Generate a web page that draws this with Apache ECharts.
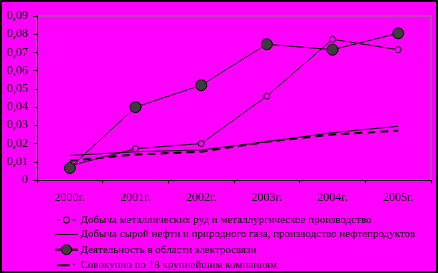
<!DOCTYPE html>
<html>
<head>
<meta charset="utf-8">
<script src="https://cdn.jsdelivr.net/npm/echarts@6/dist/echarts.min.js"></script>
<style>
  html, body { margin: 0; padding: 0; background: #ff00ff; }
  #chart { width: 438px; height: 273px; }
</style>
</head>
<body>
<div id="chart"></div>
<script>
// годы
const years = ['2000г.', '2001г.', '2002г.', '2003г.', '2004г.', '2005г.'];
// значения по отраслям
const metals = [0.0078, 0.0172, 0.0200, 0.0460, 0.0772, 0.0715];
const oilGas = [0.0135, 0.0155, 0.0165, 0.0210, 0.0260, 0.0295];
const telecom = [0.0066, 0.0400, 0.0520, 0.0745, 0.0715, 0.0805];
const total18 = [0.0105, 0.0140, 0.0155, 0.0210, 0.0250, 0.0270];

const names = [
  'Добыча металлических руд и металлургическое производство',
  'Добыча сырой нефти и природного газа, производство нефтепродуктов',
  'Деятельность в области электросвязи',
  'Совокупно по 18 крупнейшим компаниям'
];

const chart = echarts.init(document.getElementById('chart'));

const font = "'Liberation Serif', 'Times New Roman', serif";

// значки легенды (рамка 22x11 задаётся пустыми точками по углам)
const box = 'M0,0 Z M22,11 Z ';
const iconThin = 'path://' + box + 'M0,5 L22,5 L22,6 L0,6 Z';
const iconThick = 'path://' + box + 'M2,5 L14,5 L14,7 L2,7 Z M18,4 L19,4 L19,6 L18,6 Z';
const iconMetal = 'path://' + box +
  'M2,5 L5,5 L5,6 L2,6 Z M17,5 L20,5 L20,6 L17,6 Z ' +
  'M11,2 A3.5,3.5 0 1 1 10.99,2 Z M11,3 A2.5,2.5 0 1 0 11.01,3 Z';
const iconTele = 'path://' + box +
  'M0,5 L6,5 L6,6 L0,6 Z M16,5 L22,5 L22,6 L16,6 Z ' +
  'M11,0.5 A5,5 0 1 1 10.99,0.5 Z';

chart.setOption({
  backgroundColor: '#ff00ff',
  animation: false,
  textStyle: { fontFamily: font, color: '#000' },
  graphic: [{
    type: 'rect',
    shape: { x: 1, y: 1, width: 436, height: 271 },
    style: { fill: 'none', stroke: '#000', lineWidth: 2 },
    silent: true
  }],
  grid: {
    left: 37, top: 16, right: 7, bottom: 93,
    show: true, borderColor: '#808080', borderWidth: 1, backgroundColor: 'transparent'
  },
  legend: {
    orient: 'vertical',
    left: 55, top: 214.5,
    padding: 0,
    height: 58,
    itemGap: 3.6,
    itemWidth: 22, itemHeight: 11,
    textStyle: { fontFamily: font, fontSize: 11, lineHeight: 11, color: '#000', padding: [0, 0, 0, -2] },
    data: [
      { name: names[0], icon: iconMetal, itemStyle: { color: '#000', borderWidth: 0 } },
      { name: names[1], icon: iconThin, itemStyle: { color: '#000', borderWidth: 0 } },
      { name: names[2], icon: iconTele, itemStyle: { color: '#3c3c3c', borderColor: '#000', borderWidth: 1 } },
      { name: names[3], icon: iconThick, itemStyle: { color: '#000', borderWidth: 0 } }
    ]
  },
  xAxis: {
    type: 'category',
    data: years,
    boundaryGap: true,
    axisLine: { lineStyle: { color: '#000', width: 1 } },
    axisTick: { show: true, length: 4, lineStyle: { color: '#000' } },
    axisLabel: { fontSize: 12, color: '#000', margin: 12 },
    splitLine: { show: false }
  },
  yAxis: {
    type: 'value',
    min: 0, max: 0.09, interval: 0.01,
    axisLine: { show: true, lineStyle: { color: '#000', width: 1 } },
    axisTick: { show: true, length: 4, lineStyle: { color: '#000' } },
    axisLabel: {
      fontSize: 12, color: '#000', margin: 9,
      formatter: v => v === 0 ? '0' : v.toFixed(2).replace('.', ',')
    },
    splitLine: { show: false }
  },
  series: [
    {
      name: names[0],
      type: 'line',
      data: metals,
      symbol: 'circle',
      symbolSize: 6,
      itemStyle: { color: '#ff00ff', borderColor: '#000', borderWidth: 1 },
      lineStyle: { color: '#000', width: 1 },
      z: 3
    },
    {
      name: names[1],
      type: 'line',
      data: oilGas,
      symbol: 'none',
      itemStyle: { color: '#000' },
      lineStyle: { color: '#000', width: 1 },
      z: 2
    },
    {
      name: names[2],
      type: 'line',
      data: telecom,
      symbol: 'circle',
      symbolSize: 11,
      itemStyle: { color: '#3c3c3c', borderColor: '#000', borderWidth: 1 },
      lineStyle: { color: '#000', width: 1 },
      z: 4
    },
    {
      name: names[3],
      type: 'line',
      data: total18,
      symbol: 'none',
      itemStyle: { color: '#000' },
      lineStyle: { color: '#000', width: 2, type: [8, 5] },
      z: 2
    }
  ]
});
</script>
</body>
</html>
